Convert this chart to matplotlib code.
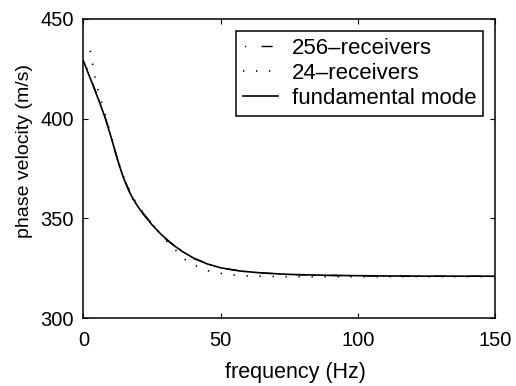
import matplotlib
matplotlib.use("Agg")
import matplotlib.pyplot as plt

plt.rcParams["font.family"] = ["Liberation Sans", "DejaVu Sans"]

# fundamental mode dispersion curve
freq_fund = [0, 2, 4, 6, 8, 10, 11, 12, 13, 14, 15, 16, 17, 18, 20, 22, 25,
             28, 32, 36, 40, 45, 50, 57, 65, 75, 90, 110, 130, 150]
vel_fund = [429, 422, 415, 407.8, 400.2, 391.2, 386.4, 381.6, 377, 372.8, 369,
            365.6, 362.6, 360, 355.6, 351.8, 346.8, 342.4, 337.4, 333.4, 330.2,
            327.2, 325.2, 323.6, 322.6, 321.9, 321.4, 321.1, 321, 321]

# 256-receivers estimate
freq_256 = [1, 3, 5, 7, 9, 11, 13, 15, 18, 21, 25, 30, 35, 40, 45, 50, 60, 70,
            80, 100, 120, 150]
vel_256 = [426.2, 419, 411.8, 404.5, 396, 386.8, 376.5, 369.4, 359.6, 353.9,
           347.2, 339.6, 334.6, 329.9, 327.4, 325, 323.1, 322.2, 321.6, 321.2,
           321, 321]

# 24-receivers estimate
freq_24 = [2.5, 3.5, 4.5, 6, 8, 10, 12, 15, 18, 22, 26, 30, 34, 37, 41, 45,
           50, 55, 60, 70, 90, 120, 150]
vel_24 = [434, 426, 419, 411, 402, 392, 381.5, 369.5, 360.5, 352.5, 345.5,
          339, 333.5, 329.4, 326.2, 323.8, 322.4, 321.6, 321.1, 320.8, 320.7,
          320.8, 320.8]

fig = plt.figure(figsize=(5.16, 3.86), dpi=100)
ax = fig.add_axes([0.1615, 0.176, 0.7985, 0.775])

ax.plot(freq_256, vel_256, color="black", lw=1.0,
        linestyle=(12, (8, 5, 1, 11)), label="256\u2013receivers")
ax.plot(freq_24, vel_24, color="black", lw=1.2, dashes=(0.8, 7),
        label="24\u2013receivers")
ax.plot(freq_fund, vel_fund, color="black", lw=1.2, label="fundamental mode")

ax.set_xlim(0, 150)
ax.set_ylim(300, 450)
ax.set_xticks([0, 50, 100, 150])
ax.set_yticks([300, 350, 400, 450])
ax.tick_params(direction="in", top=True, right=True, length=3.5,
               labelsize=14.5)
ax.tick_params(axis="x", pad=9)
ax.tick_params(axis="y", pad=7)
ax.set_xlabel("frequency (Hz)", fontsize=15.5)
ax.set_ylabel("phase velocity (m/s)", fontsize=14)
ax.xaxis.set_label_coords(0.514, -0.147)
ax.yaxis.set_label_coords(-0.122, 0.557)
for s in ax.spines.values():
    s.set_linewidth(1.1)

leg = ax.legend(loc="upper right", fontsize=16, frameon=True, fancybox=False,
                edgecolor="black", framealpha=1, handlelength=1.58,
                handletextpad=0.63, borderpad=0.3, labelspacing=0.19,
                borderaxespad=0.55)
leg.get_frame().set_linewidth(1.1)

fig.savefig("out.png", dpi=100)
